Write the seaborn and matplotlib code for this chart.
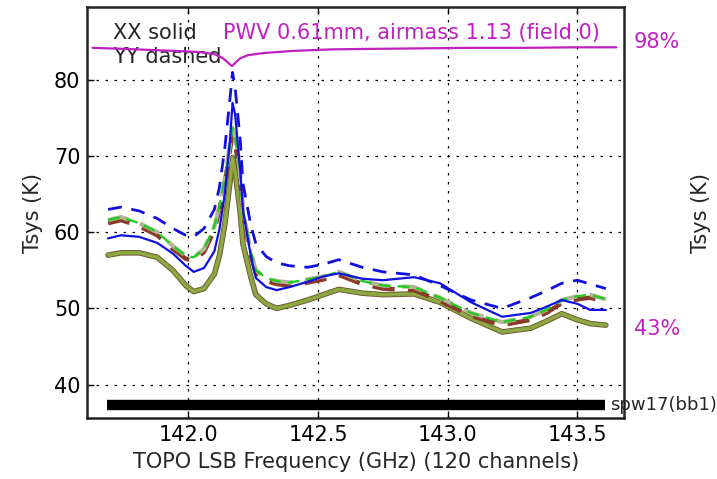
import numpy as np
import pandas as pd
import matplotlib
matplotlib.use("Agg")
import matplotlib.pyplot as plt
import seaborn as sns

# ---------------- data ----------------
freq = [141.69, 141.74, 141.81, 141.88, 141.94, 141.99, 142.02, 142.06, 142.10, 142.12,
        142.14, 142.16, 142.17, 142.18, 142.20, 142.21, 142.24, 142.26, 142.30, 142.34,
        142.39, 142.46, 142.52, 142.58, 142.67, 142.75, 142.87, 142.97, 143.09, 143.21,
        143.32, 143.38, 143.44, 143.50, 143.55, 143.61]

xx_band = [57.0, 57.3, 57.3, 56.7, 55.0, 53.0, 52.2, 52.6, 54.5, 57.0,
           61.0, 66.5, 69.8, 68.0, 62.5, 58.5, 54.2, 51.8, 50.6, 50.0,
           50.4, 51.1, 51.8, 52.5, 52.0, 51.8, 51.9, 50.8, 48.7, 46.9,
           47.4, 48.3, 49.3, 48.5, 48.0, 47.8]

xx_blue = [59.2, 59.6, 59.4, 58.6, 57.2, 55.6, 54.8, 55.3, 57.5, 60.5,
           65.0, 72.0, 77.0, 75.5, 68.0, 63.0, 57.0, 54.0, 52.8, 52.4,
           52.8, 53.5, 54.2, 54.6, 53.9, 53.7, 54.1, 53.3, 50.8, 48.9,
           49.4, 50.2, 51.1, 50.6, 49.8, 49.8]

yy_blue = [63.0, 63.3, 62.8, 61.8, 60.5, 59.6, 59.4, 60.5, 63.0, 66.0,
           71.0, 77.5, 81.0, 79.0, 72.0, 66.5, 61.0, 58.5, 56.8, 56.0,
           55.6, 55.4, 55.8, 56.4, 55.4, 54.8, 54.4, 53.0, 51.1, 50.0,
           51.4, 52.3, 53.3, 53.7, 53.2, 52.6]

yy_band = [61.6, 62.0, 61.2, 60.0, 58.2, 56.9, 56.7, 57.8, 60.8, 63.5,
           67.0, 71.5, 73.7, 72.5, 67.5, 63.0, 57.5, 55.0, 54.0, 53.6,
           53.4, 53.8, 54.2, 54.8, 53.6, 53.0, 52.8, 51.4, 49.4, 48.2,
           48.9, 49.8, 51.1, 51.6, 51.8, 51.2]

yy_band2 = [61.2, 61.6, 60.8, 59.6, 57.8, 56.5, 56.3, 57.4, 60.3, 63.0,
            66.4, 70.8, 72.9, 71.8, 66.9, 62.5, 57.1, 54.6, 53.6, 53.2,
            53.0, 53.4, 53.8, 54.4, 53.2, 52.6, 52.4, 51.0, 49.0, 47.8,
            48.5, 49.4, 50.7, 51.2, 51.4, 50.8]

trans_freq = [141.63, 141.75, 141.85, 141.95, 142.04, 142.10, 142.13, 142.15, 142.168,
              142.18, 142.20, 142.23, 142.29, 142.40, 142.55, 142.70, 142.90, 143.10,
              143.30, 143.50, 143.65]
trans_pct = [96.5, 96.3, 96.1, 95.9, 95.7, 95.3, 94.6, 93.8, 93.0,
             93.6, 94.5, 95.1, 95.5, 95.9, 96.2, 96.3, 96.4, 96.5,
             96.5, 96.6, 96.6]

bar_freq = [141.686, 143.606]
bar_level = [37.3, 37.3]

x_ticks = [142.0, 142.5, 143.0, 143.5]
y_ticks = [40, 50, 60, 70, 80]
right_ticks = [43, 98]
right_labels = ["43%", "98%"]

# ---------------- style ----------------
sns.set_style("white")
plt.rcParams["font.family"] = ["DejaVu Sans"]
FS = 15
plt.rcParams["font.size"] = FS

MAG = "#c020c0"

fig = plt.figure(figsize=(7.17, 4.79), dpi=100)
ax = fig.add_axes([0.1218, 0.1273, 0.8703 - 0.1218, 0.9848 - 0.1273])

ax.set_xlim(141.610, 143.680)
ax.set_ylim(35.6, 89.55)

# solid XX band (overlapping antennas)
sns.lineplot(x=freq, y=xx_band, ax=ax, color="#6e5530", lw=4.0, sort=False, zorder=3)
sns.lineplot(x=freq, y=xx_band, ax=ax, color="#86a23c", lw=2.8, sort=False, zorder=3)
sns.lineplot(x=freq, y=xx_band, ax=ax, color="#92aa48", lw=1.2, sort=False, zorder=3)

# XX blue solid
sns.lineplot(x=freq, y=xx_blue, ax=ax, color="#1010e0", lw=1.6, sort=False, zorder=4)

# dashed YY band
dash = (0, (5, 3))
sns.lineplot(x=freq, y=yy_band2, ax=ax, color="#8b3a2a", lw=3.2, linestyle=dash, sort=False, zorder=3)
sns.lineplot(x=freq, y=yy_band, ax=ax, color="#b4b494", lw=3.0, linestyle=dash, sort=False, zorder=3)
sns.lineplot(x=freq, y=yy_band, ax=ax, color="#22cc22", lw=1.7, linestyle=dash, sort=False, zorder=3)

# YY blue dashed
sns.lineplot(x=freq, y=yy_blue, ax=ax, color="#1010e0", lw=2.0, linestyle=(0, (5, 3.5)), sort=False, zorder=4)

# spw bar
sns.lineplot(x=bar_freq, y=bar_level, ax=ax, color="black", lw=7.5, sort=False,
             solid_capstyle="butt", zorder=5)
ax.text(143.625, 37.3, "spw17(bb1)", fontsize=13, va="center", ha="left",
        clip_on=False, zorder=6)

# grid / ticks
ax.set_xticks(x_ticks)
ax.set_xticklabels([f"{v:.1f}" for v in x_ticks])
ax.set_yticks(y_ticks)
ax.grid(True, color="black", linestyle=(0, (2, 5.2)), linewidth=0.9)
ax.tick_params(direction="in", length=5, width=1, top=True, right=True,
               bottom=True, left=True, labelsize=FS, pad=5, colors="black")
for s in ax.spines.values():
    s.set_color("#222222")
    s.set_linewidth(1.8)

ax.set_xlabel("TOPO LSB Frequency (GHz) (120 channels)", fontsize=FS, labelpad=5)
ax.set_ylabel("Tsys (K)", fontsize=FS, labelpad=8)

ax.text(0.048, 0.923, "XX solid", transform=ax.transAxes, fontsize=FS, va="baseline", zorder=7)
ax.text(0.048, 0.864, "YY dashed", transform=ax.transAxes, fontsize=FS, va="baseline", zorder=7)
ax.text(0.253, 0.923, "PWV 0.61mm, airmass 1.13 (field 0)", transform=ax.transAxes,
        fontsize=FS, va="baseline", color=MAG, zorder=7)

# transmission twin axis
ax2 = ax.twinx()
ax2.set_ylim(25.56, 104.27)
sns.lineplot(x=trans_freq, y=trans_pct, ax=ax2, color=MAG, lw=1.6, sort=False)
ax2.set_xlim(141.610, 143.680)
ax2.set_yticks(right_ticks)
ax2.set_yticklabels(right_labels)
ax2.tick_params(axis="y", length=0, labelsize=FS, labelcolor=MAG, pad=7)
ax2.set_ylabel("Tsys (K)", fontsize=FS, labelpad=8)
ax2.grid(False)
for s in ax2.spines.values():
    s.set_visible(False)

fig.savefig("out.png", dpi=100)
